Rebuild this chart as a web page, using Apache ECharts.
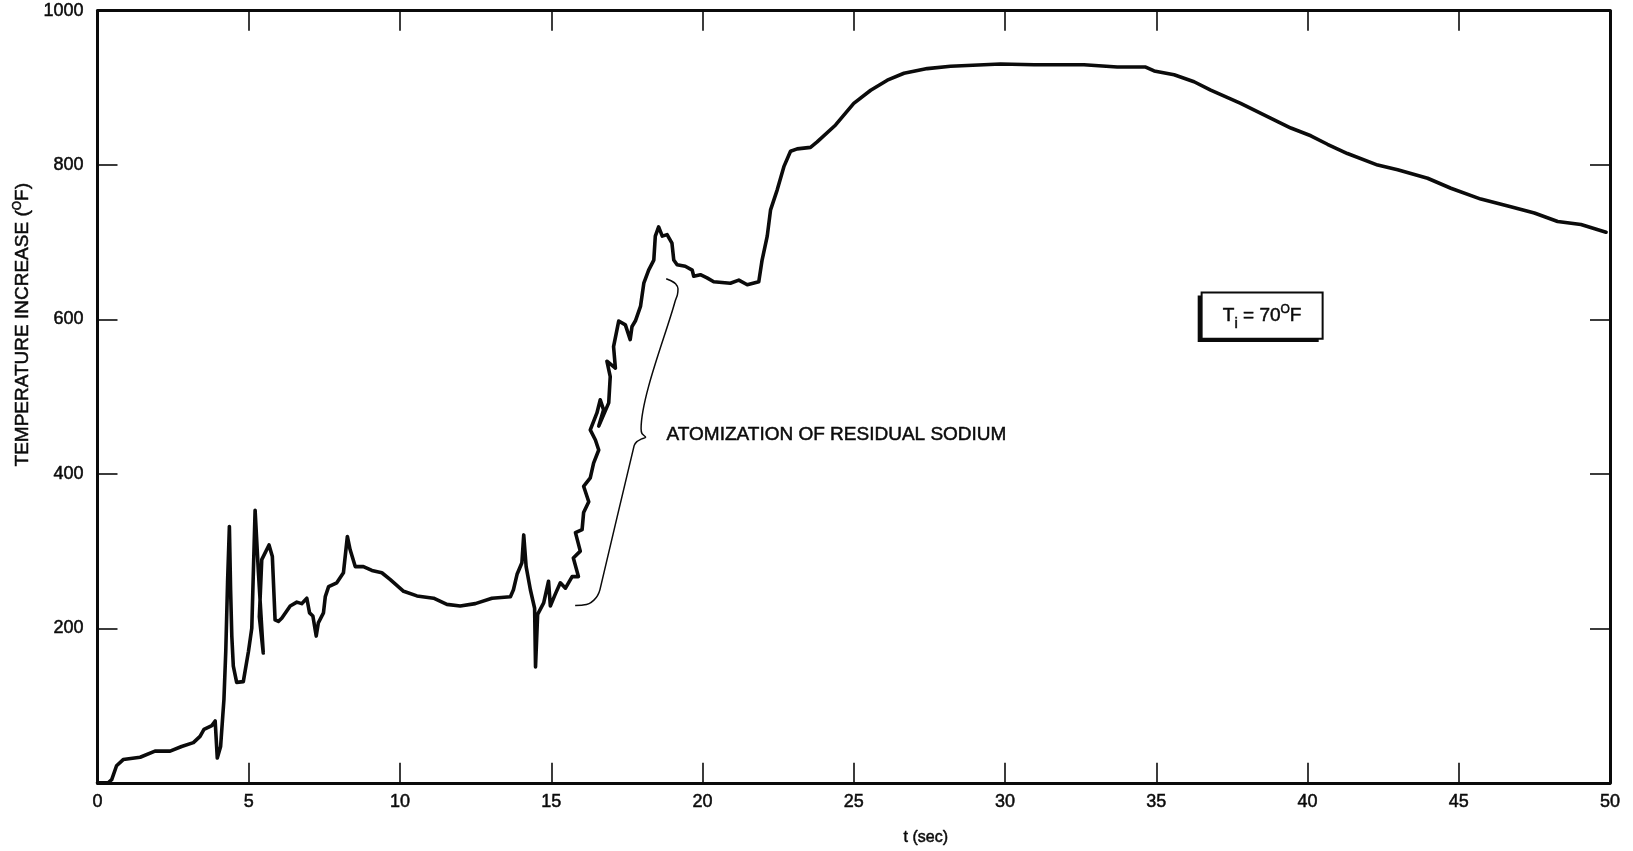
<!DOCTYPE html>
<html>
<head>
<meta charset="utf-8">
<script src="https://cdn.jsdelivr.net/npm/echarts@6/dist/echarts.min.js"></script>
<style>
  html, body { margin: 0; padding: 0; background: #ffffff; }
  #chart { width: 1633px; height: 851px; }
</style>
</head>
<body>
<div id="chart"></div>
<script>
// Thermocouple trace: time (s) and temperature increase (°F)
const timeSec = [
  0.00, 0.35, 0.47, 0.63, 0.85, 1.41, 1.90, 2.40, 2.78, 3.17, 3.39, 3.52, 3.78, 3.89, 3.96,
  4.07, 4.14, 4.18, 4.24, 4.30, 4.36, 4.40, 4.44, 4.49, 4.60, 4.82, 4.99, 5.10, 5.21, 5.32,
  5.48, 5.35, 5.43, 5.67, 5.78, 5.87, 5.98, 6.09, 6.37, 6.59, 6.75, 6.92, 7.01, 7.12, 7.23,
  7.30, 7.47, 7.53, 7.64, 7.91, 8.13, 8.26, 8.35, 8.52, 8.79, 9.07, 9.40, 9.68, 10.12, 10.56,
  11.11, 11.55, 11.99, 12.49, 13.04, 13.65, 13.75, 13.87, 14.03, 14.09, 14.17, 14.31, 14.45, 14.48,
  14.52, 14.55, 14.58, 14.75, 14.91, 14.97, 15.13, 15.30, 15.47, 15.69, 15.90, 15.73, 15.96, 15.80,
  16.02, 16.07, 16.24, 16.07, 16.29, 16.40, 16.57, 16.46, 16.29, 16.51, 16.62, 16.73, 16.57, 16.90,
  16.95, 16.84, 17.12, 17.06, 17.23, 17.45, 17.61, 17.67, 17.78, 17.95, 18.06, 18.22, 18.39, 18.44,
  18.55, 18.67, 18.83, 18.99, 19.05, 19.16, 19.43, 19.66, 19.71, 19.93, 20.15, 20.37, 20.92, 21.20,
  21.48, 21.86, 21.97, 22.14, 22.25, 22.47, 22.69, 22.91, 23.13, 23.57, 23.79, 24.40, 25.00, 25.56,
  26.11, 26.66, 27.43, 28.20, 29.85, 30.96, 32.61, 33.71, 34.65, 34.93, 35.59, 36.25, 36.80, 37.79,
  38.56, 39.45, 40.11, 40.66, 41.32, 42.32, 42.98, 43.97, 44.74, 45.73, 46.72, 47.50, 48.27, 49.04,
  49.87
];
const tempRise = [
  0, 0, 4, 22, 30, 33, 41, 41, 47, 52, 60, 69, 74, 80, 32,
  47, 86, 108, 170, 260, 332, 250, 190, 151, 130, 131, 170, 200, 353, 272,
  168, 215, 289, 308, 293, 211, 209, 213, 229, 234, 232, 239, 220, 216, 190,
  207, 220, 241, 254, 259, 272, 319, 302, 280, 280, 275, 272, 263, 248, 242,
  239, 231, 229, 232, 239, 241, 250, 270, 285, 321, 280, 250, 226, 150,
  148, 218, 220, 233, 261, 229, 244, 259, 252, 267, 267, 291, 300, 324,
  328, 350, 364, 384, 395, 414, 431, 444, 457, 479, 496, 483, 462, 492,
  526, 546, 537, 565, 598, 593, 574, 591, 598, 617, 647, 664, 677, 708,
  720, 708, 710, 699, 677, 671, 669, 664, 656, 658, 654, 649, 647, 651,
  645, 649, 677, 708, 742, 768, 798, 818, 821, 823, 830, 852, 880, 897,
  910, 919, 925, 928, 931, 930, 930, 927, 927, 922, 917, 908, 897, 880,
  865, 848, 838, 827, 815, 800, 794, 783, 770, 756, 746, 738, 727, 723,
  713
];

// Brace spanning the atomization stretch of the trace
const braceT = [
  15.79, 16.05, 16.25, 16.41, 16.53, 16.61, 17.74, 17.83, 17.97, 18.12, 18.00, 17.97,
  19.09, 19.17, 19.19, 19.11, 18.96, 18.80
];
const braceV = [
  229.5, 230.1, 232.1, 236.6, 242.4, 250.2, 436.6, 441.8, 445.0, 447.6, 452.1, 458.6,
  623.0, 632.0, 639.8, 646.3, 650.2, 652.8
];

const xTickStep = 5;
const yLabelValues = [200, 400, 600, 800, 1000];
const xAxisTitle = 't (sec)';
const yAxisTitle = 'TEMPERATURE INCREASE ({sup|O}F)';
const noteText = 'ATOMIZATION OF RESIDUAL SODIUM';
const initialTempText = 'T{sub|i} = 70{sup|O}F';

const trace = timeSec.map((t, i) => [t, tempRise[i]]);
const brace = braceT.map((t, i) => [t, braceV[i]]);

const FONT = '"Liberation Sans", Arial, Helvetica, sans-serif';
const INK = '#0b0b0b';

const chart = echarts.init(document.getElementById('chart'), null, { renderer: 'canvas' });

const frameLine = { show: true, onZero: false, lineStyle: { color: INK, width: 3 } };
const innerTick = { show: true, inside: true, length: 20, lineStyle: { color: INK, width: 1.6 } };
const heavyText = { textBorderColor: INK, textBorderWidth: 0.5 };

chart.setOption({
  animation: false,
  backgroundColor: '#ffffff',
  grid: { left: 97.5, right: 23, top: 10.7, bottom: 67.7 },
  xAxis: [
    {
      type: 'value', min: 0, max: 50, interval: xTickStep, position: 'bottom',
      axisLine: frameLine,
      axisTick: innerTick,
      splitLine: { show: false },
      axisLabel: Object.assign({ color: INK, fontSize: 18, fontFamily: FONT, margin: 10 }, heavyText),
      name: xAxisTitle, nameLocation: 'middle', nameGap: 47,
      nameTextStyle: Object.assign({ color: INK, fontSize: 16, fontFamily: FONT, padding: [0, 0, 0, 144] }, heavyText)
    },
    {
      type: 'value', min: 0, max: 50, interval: xTickStep, position: 'top',
      axisLine: frameLine,
      axisTick: innerTick,
      splitLine: { show: false },
      axisLabel: { show: false }
    }
  ],
  yAxis: [
    {
      type: 'value', min: 0, max: 1000, interval: 200, position: 'left',
      axisLine: frameLine,
      axisTick: innerTick,
      splitLine: { show: false },
      axisLabel: Object.assign({
        color: INK, fontSize: 18, fontFamily: FONT, margin: 14,
        formatter: v => (yLabelValues.includes(v) ? String(v) : '')
      }, heavyText),
      name: yAxisTitle, nameLocation: 'middle', nameGap: 64, nameRotate: 90,
      nameTextStyle: Object.assign({
        color: INK, fontSize: 19, fontFamily: FONT, padding: [0, 0, 0, 144],
        rich: { sup: Object.assign({ fontSize: 12, fontFamily: FONT, color: INK, padding: [0, 0, 10, 0] }, heavyText) }
      }, heavyText)
    },
    {
      type: 'value', min: 0, max: 1000, interval: 200, position: 'right',
      axisLine: frameLine,
      axisTick: innerTick,
      splitLine: { show: false },
      axisLabel: { show: false }
    }
  ],
  series: [
    {
      name: 'brace',
      type: 'line',
      data: brace,
      showSymbol: false,
      silent: true,
      smooth: 0.25,
      lineStyle: { color: INK, width: 1.5 },
      z: 2,
      markPoint: {
        symbol: 'circle', symbolSize: 0, silent: true,
        data: [{ coord: [18.81, 451], value: noteText }],
        label: Object.assign({
          show: true, position: 'right', distance: 0,
          formatter: noteText,
          color: INK, fontSize: 19, fontFamily: FONT
        }, heavyText)
      }
    },
    {
      name: 'temperature increase',
      type: 'line',
      data: trace,
      showSymbol: false,
      silent: true,
      lineStyle: { color: INK, width: 3.6, cap: 'round', join: 'round' },
      z: 3,
      markArea: {
        silent: true,
        data: [
          // offset dark backing that gives the box its heavy left and lower edge
          [
            { coord: [36.37, 631], itemStyle: { color: INK, borderWidth: 0 }, label: { show: false } },
            { coord: [40.37, 571] }
          ],
          [
            {
              coord: [36.5, 635],
              itemStyle: { color: '#ffffff', borderColor: INK, borderWidth: 2 },
              label: Object.assign({
                show: true, position: 'inside', color: INK, fontSize: 19, fontFamily: FONT,
                formatter: initialTempText,
                rich: {
                  sub: Object.assign({ fontSize: 15, fontFamily: FONT, color: INK, padding: [16, 0, 0, 0] }, heavyText),
                  sup: Object.assign({ fontSize: 12, fontFamily: FONT, color: INK, padding: [0, 0, 12, 0] }, heavyText)
                }
              }, heavyText)
            },
            { coord: [40.5, 575] }
          ]
        ]
      }
    }
  ]
});
</script>
</body>
</html>
